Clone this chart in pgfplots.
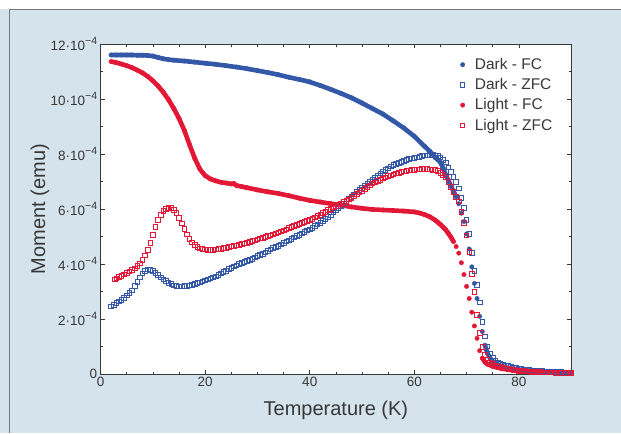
\documentclass[border=0pt]{standalone}
\usepackage{pgfplots}
\usepackage{pgfplotstable}
\pgfplotsset{compat=1.18}
\usepackage{fontspec}
\setmainfont{Liberation Sans}
\definecolor{bgblue}{RGB}{213,227,236}
\definecolor{dkblue}{RGB}{52,88,168}
\definecolor{ltred}{RGB}{226,24,54}
\definecolor{txtgray}{RGB}{55,55,55}
\definecolor{framegray}{RGB}{120,120,120}
\newcommand{\tickfont}{\fontsize{13.5bp}{15bp}\selectfont}
\newcommand{\legfont}{\fontsize{15.5bp}{18bp}\selectfont}
\newcommand{\labfont}{\fontsize{20bp}{24bp}\selectfont}
\newcommand{\ylab}[1]{#1·10\raisebox{0.45em}{\fontsize{10.5bp}{11bp}\selectfont −4}}

% moment in units of 1e-4 emu
\pgfplotstableread{
T m
2 11.61
3 11.61
4 11.61
5 11.61
6 11.61
7 11.60
8 11.60
9 11.59
10 11.57
11 11.52
12 11.47
13 11.44
14 11.42
16 11.39
18 11.35
20 11.31
22 11.27
24 11.22
26 11.17
28 11.11
30 11.04
32 10.97
34 10.89
36 10.80
38 10.72
40 10.63
42 10.50
44 10.36
46 10.21
48 10.05
50 9.86
52 9.66
54 9.46
56 9.21
58 8.95
60 8.65
62 8.28
63 8.10
64 7.88
64.5 7.80
65 7.70
65.5 7.50
66 7.25
66.5 7.05
67 6.85
67.5 6.65
68 6.45
68.5 6.20
69 5.85
69.5 5.55
70 5.10
70.5 4.55
71 3.90
71.5 3.30
72 2.75
72.5 2.10
73 1.55
73.5 1.05
74 0.75
74.5 0.58
75 0.46
76 0.34
77 0.27
78 0.22
80 0.16
82 0.12
84 0.09
86 0.07
88 0.06
90 0.05
}\darkfc

\pgfplotstableread{
T m
2 2.46
2.5 2.52
3 2.58
3.5 2.64
4 2.70
4.5 2.78
5 2.86
5.5 2.96
6 3.05
6.5 3.20
7 3.35
7.5 3.52
8 3.66
8.5 3.76
9 3.81
9.5 3.80
10 3.76
10.5 3.69
11 3.60
11.5 3.52
12 3.45
12.5 3.38
13 3.32
13.5 3.27
14 3.23
14.5 3.20
15 3.19
15.5 3.19
16 3.20
16.5 3.21
17 3.23
17.5 3.25
18 3.28
18.5 3.31
19 3.34
19.5 3.37
20 3.41
20.5 3.44
21 3.48
21.5 3.52
22 3.56
22.5 3.61
23 3.66
23.5 3.71
24 3.76
24.5 3.82
25 3.87
25.5 3.92
26 3.96
26.5 4.00
27 4.04
27.5 4.08
28 4.12
28.5 4.16
29 4.20
29.5 4.24
30 4.29
30.5 4.33
31 4.38
31.5 4.43
32 4.48
32.5 4.53
33 4.58
33.5 4.62
34 4.67
34.5 4.72
35 4.77
35.5 4.82
36 4.87
36.5 4.92
37 4.97
37.5 5.02
38 5.07
38.5 5.12
39 5.17
39.5 5.22
40 5.27
40.5 5.32
41 5.38
41.5 5.44
42 5.51
42.5 5.58
43 5.65
43.5 5.72
44 5.80
44.5 5.88
45 5.96
45.5 6.04
46 6.12
46.5 6.21
47 6.30
47.5 6.38
48 6.45
48.5 6.53
49 6.62
49.5 6.70
50 6.78
50.5 6.86
51 6.93
51.5 7.00
52 7.07
52.5 7.15
53 7.22
53.5 7.30
54 7.37
54.5 7.43
55 7.49
55.5 7.55
56 7.60
56.5 7.65
57 7.69
57.5 7.73
58 7.76
58.5 7.79
59 7.82
59.5 7.84
60 7.86
60.5 7.89
61 7.91
61.5 7.93
62 7.95
62.5 7.96
63 7.97
63.5 7.97
64 7.95
64.5 7.93
65 7.88
65.5 7.80
66 7.70
66.5 7.52
67 7.35
67.5 7.17
68 7.00
68.5 6.75
69 6.40
69.5 6.05
70 5.60
70.5 5.10
71 4.40
71.5 3.75
72 3.25
72.5 2.60
73 1.90
73.5 1.37
74 1.00
74.5 0.75
75 0.58
75.5 0.49
76 0.43
76.5 0.39
77 0.35
77.5 0.32
78 0.29
78.5 0.26
79 0.24
79.5 0.22
80 0.20
80.5 0.18
81 0.17
81.5 0.16
82 0.15
82.5 0.14
83 0.13
83.5 0.12
84 0.11
84.5 0.105
85 0.10
85.5 0.095
86 0.09
86.5 0.085
87 0.08
87.5 0.075
88 0.07
88.5 0.065
89 0.06
89.5 0.055
90 0.05
}\darkzfc

\pgfplotstableread{
T m
2 11.37
3 11.33
4 11.28
5 11.22
6 11.15
7 11.06
8 10.96
9 10.83
10 10.67
11 10.48
12 10.25
13 9.98
14 9.66
15 9.30
16 8.87
17 8.35
18 7.85
19 7.45
20 7.22
21 7.10
22 7.03
23 6.98
24 6.95
25 6.92
25.5 6.93
26 6.86
27 6.82
28 6.78
30 6.70
32 6.63
34 6.57
36 6.49
38 6.40
40 6.32
42 6.26
44 6.20
46 6.14
48 6.08
50 6.03
52 5.99
54 5.97
56 5.95
58 5.93
60 5.90
61 5.86
62 5.80
63 5.72
64 5.60
64.5 5.52
65 5.44
65.5 5.35
66 5.25
66.5 5.12
67 4.98
67.5 4.82
68 4.64
68.5 4.40
69 4.05
69.5 3.62
70 3.19
70.5 2.75
71 2.25
71.5 1.75
72 1.30
72.5 0.85
73 0.58
73.5 0.44
74 0.36
75 0.28
76 0.23
77 0.19
78 0.16
80 0.12
82 0.10
84 0.08
86 0.07
88 0.06
90 0.05
}\lightfc

\pgfplotstableread{
T m
2.7 3.45
3 3.48
3.5 3.53
4 3.58
4.5 3.63
5 3.68
5.5 3.73
6 3.78
6.5 3.85
7 3.93
7.5 4.03
8 4.16
8.5 4.32
9 4.52
9.5 4.78
10 5.07
10.5 5.35
11 5.60
11.5 5.80
12 5.94
12.5 6.02
13 6.05
13.5 6.04
14 5.98
14.5 5.86
15 5.68
15.5 5.48
16 5.28
16.5 5.08
17 4.92
17.5 4.79
18 4.69
18.5 4.62
19 4.57
19.5 4.55
20 4.53
20.5 4.52
21 4.52
21.5 4.52
22 4.53
22.5 4.545
23 4.56
23.5 4.58
24 4.60
24.5 4.62
25 4.64
25.5 4.66
26 4.68
26.5 4.70
27 4.73
27.5 4.755
28 4.78
28.5 4.81
29 4.84
29.5 4.87
30 4.90
30.5 4.93
31 4.96
31.5 4.99
32 5.02
32.5 5.05
33 5.08
33.5 5.115
34 5.15
34.5 5.19
35 5.23
35.5 5.27
36 5.31
36.5 5.35
37 5.39
37.5 5.425
38 5.46
38.5 5.495
39 5.53
39.5 5.565
40 5.60
40.5 5.65
41 5.70
41.5 5.75
42 5.80
42.5 5.855
43 5.91
43.5 5.965
44 6.02
44.5 6.075
45 6.125
45.5 6.17
46 6.21
46.5 6.26
47 6.31
47.5 6.36
48 6.42
48.5 6.485
49 6.55
49.5 6.61
50 6.67
50.5 6.735
51 6.80
51.5 6.865
52 6.93
52.5 6.98
53 7.03
53.5 7.075
54 7.12
54.5 7.16
55 7.20
55.5 7.235
56 7.27
56.5 7.30
57 7.33
57.5 7.355
58 7.38
58.5 7.395
59 7.41
59.5 7.42
60 7.43
60.5 7.44
61 7.45
61.5 7.455
62 7.46
62.5 7.455
63 7.45
63.5 7.435
64 7.42
64.5 7.39
65 7.33
65.5 7.25
66 7.15
66.5 7.00
67 6.82
67.5 6.62
68 6.45
68.5 6.28
69 5.90
69.5 5.50
70 5.05
70.5 4.45
71 3.65
71.5 3.00
72 2.15
72.5 1.50
73 0.98
73.5 0.70
74 0.52
74.5 0.42
75 0.36
75.5 0.32
76 0.28
76.5 0.25
77 0.22
77.5 0.20
78 0.18
78.5 0.165
79 0.15
79.5 0.135
80 0.12
80.5 0.115
81 0.11
81.5 0.10
82 0.09
82.5 0.085
83 0.08
83.5 0.075
84 0.07
84.5 0.065
85 0.06
86 0.06
87 0.05
88 0.05
89 0.05
90 0.05
}\lightzfc

\begin{document}
\begin{tikzpicture}[x=1bp,y=1bp]
\fill[white] (0,0) rectangle (621,433);
\fill[bgblue] (0,0) rectangle (621,424);
\draw[framegray, line width=0.8bp] (9,0) -- (9,424) -- (621,424);
\begin{axis}[
  at={(100.7bp,58.7bp)}, anchor=south west,
  scale only axis, width=470.8bp, height=330bp,
  xmin=0, xmax=90, ymin=0, ymax=12,
  axis background/.style={fill=white},
  axis line style={txtgray, line width=0.7bp},
  xtick={0,20,40,60,80}, minor x tick num=3,
  ytick={0,2,4,6,8,10,12}, minor y tick num=1,
  yticklabels={0,\ylab{2},\ylab{4},\ylab{6},\ylab{8},\ylab{10},\ylab{12}},
  tick align=inside,
  major tick length=4bp, minor tick length=2.5bp,
  tick style={txtgray, line width=0.6bp},
  /pgf/number format/assume math mode=true,
  tick label style={font=\tickfont, text=txtgray},
  xlabel={Temperature (K)},
  ylabel={Moment (emu)},
  label style={font=\labfont, text=txtgray},
  xlabel style={at={(axis description cs:0.5,-0.111)}, anchor=center},
  ylabel style={at={(axis description cs:-0.129,0.5)}, anchor=center},
  legend cell align=left,
  legend style={at={(0.758,0.970)}, anchor=north west, draw=none, fill=none,
    font=\legfont, text=txtgray, row sep=3.5bp,
    /tikz/every odd column/.style={column sep=8bp}},
]
% FC as thick bands, dots where the curve drops
\addplot[dkblue, line width=4.6bp, forget plot] table[x=T, y=m, restrict x to domain=0:68] {\darkfc};
\addplot[dkblue, line width=4.6bp, forget plot] table[x=T, y=m, restrict x to domain=73.5:90] {\darkfc};
\addplot[dkblue, only marks, mark=*, mark size=2.2bp, forget plot] table[x=T, y=m] {\darkfc};
\addplot[ltred, line width=4.6bp, forget plot] table[x=T, y=m, restrict x to domain=0:67.5] {\lightfc};
\addplot[ltred, line width=4.6bp, forget plot] table[x=T, y=m, restrict x to domain=73:90] {\lightfc};
\addplot[ltred, only marks, mark=*, mark size=2.2bp, forget plot] table[x=T, y=m] {\lightfc};
% ZFC as open squares
\addplot[dkblue, only marks, mark=square, mark size=2.3bp, mark options={line width=0.8bp}, forget plot] table[x=T, y=m] {\darkzfc};
\addplot[ltred, only marks, mark=square, mark size=2.3bp, mark options={line width=0.8bp}, forget plot] table[x=T, y=m] {\lightzfc};

\addlegendimage{only marks, mark=*, dkblue, mark size=2.2bp}
\addlegendentry{Dark - FC}
\addlegendimage{only marks, mark=square, dkblue, mark size=2.2bp, mark options={line width=0.8bp}}
\addlegendentry{Dark - ZFC}
\addlegendimage{only marks, mark=*, ltred, mark size=2.2bp}
\addlegendentry{Light - FC}
\addlegendimage{only marks, mark=square, ltred, mark size=2.2bp, mark options={line width=0.8bp}}
\addlegendentry{Light - ZFC}
\end{axis}
\end{tikzpicture}
\end{document}
